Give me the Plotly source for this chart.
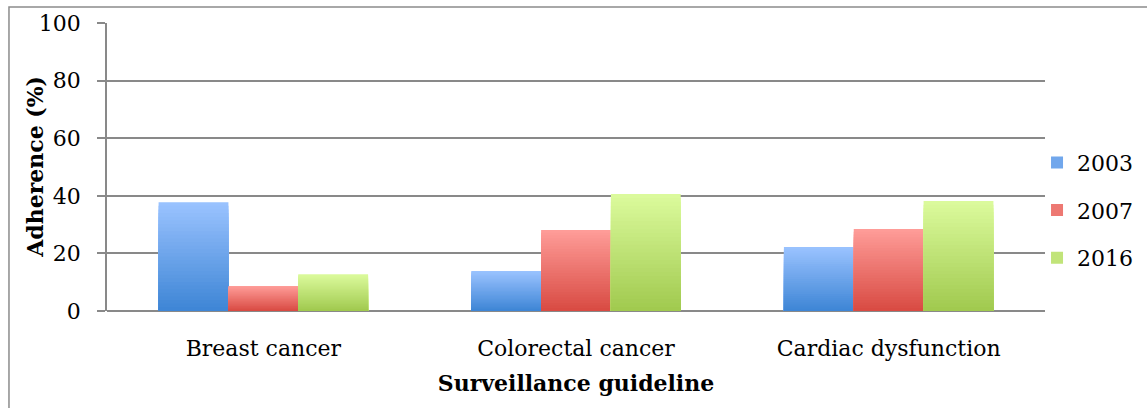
import plotly.graph_objects as go

# Adherence to surveillance guidelines, by year
categories = ["Breast cancer", "Colorectal cancer", "Cardiac dysfunction"]
years = ["2003", "2007", "2016"]
adherence_2003 = [37.8, 13.9, 22.2]
adherence_2007 = [8.7, 28.1, 28.5]
adherence_2016 = [12.8, 40.6, 38.2]
y_ticks = [0, 20, 40, 60, 80, 100]

series = [adherence_2003, adherence_2007, adherence_2016]
# (bottom colour, top colour) of each series' vertical gradient
gradients = [
    ((61, 133, 213), (155, 195, 255)),
    ((216, 74, 66), (255, 157, 153)),
    ((160, 201, 78), (220, 251, 157)),
]

FONT = "DejaVu Serif"
SIZE = 22
GRID = "#898989"
STEPS = 30


def mix(c0, c1, t):
    return "rgb({},{},{})".format(*[round(a + (b - a) * t) for a, b in zip(c0, c1)])


fig = go.Figure()
for name, values, (bottom, top) in zip(years, series, gradients):
    # legend entry for the series
    fig.add_trace(go.Bar(
        x=categories, y=[None] * len(categories), name=name,
        legendgroup=name, offsetgroup=name, showlegend=True,
        marker=dict(color=mix(bottom, top, 0.55), line_width=0), hoverinfo="skip",
    ))
    # stacked layers of shrinking height give each bar a bottom-dark gradient
    for k in range(STEPS):
        frac = 1 - k / STEPS
        fig.add_trace(go.Bar(
            x=categories,
            y=[v * frac for v in values],
            name=name,
            legendgroup=name,
            offsetgroup=name,
            showlegend=False,
            marker=dict(color=mix(bottom, top, frac - 0.5 / STEPS), line_width=0),
            hoverinfo="skip",
        ))

# outer chart frame
fig.add_shape(
    type="rect", xref="paper", yref="paper",
    x0=-0.1045, x1=1.3, y0=-0.6, y1=1.0556,
    line=dict(color="#8c8c8c", width=1.5), fillcolor="rgba(0,0,0,0)", layer="below",
)

# vertical axis title
fig.add_annotation(
    text="<b>Adherence (%)</b>", textangle=-90, showarrow=False,
    xref="paper", yref="paper", x=-0.077, y=0.5, xanchor="center", yanchor="middle",
    font=dict(family=FONT, size=SIZE, color="black"),
)

fig.update_layout(
    width=1147, height=408,
    margin=dict(l=107, r=102, t=23, b=97, autoexpand=False),
    paper_bgcolor="white", plot_bgcolor="white",
    barmode="group", bargap=0.33, bargroupgap=0,
    font=dict(family=FONT, size=SIZE, color="black"),
    showlegend=True,
    legend=dict(
        x=0.9915, xanchor="left", y=0.35, yanchor="middle",
        font=dict(family=FONT, size=SIZE), tracegroupgap=16,
        itemwidth=30, bgcolor="rgba(0,0,0,0)",
    ),
    xaxis=dict(
        type="category", showgrid=False, ticks="", showline=False,
        tickfont=dict(family=FONT, size=SIZE), ticklabelstandoff=22,
        title=dict(text="<b>Surveillance guideline</b>", font=dict(family=FONT, size=SIZE), standoff=15),
    ),
    yaxis=dict(
        range=[0, 100], tickvals=y_ticks, showgrid=True, gridcolor=GRID, gridwidth=1.6,
        zeroline=True, zerolinecolor=GRID, zerolinewidth=1.6,
        showline=True, linecolor=GRID, linewidth=1.6,
        ticks="outside", ticklen=8, tickcolor=GRID, tickwidth=1.6,
        tickfont=dict(family=FONT, size=SIZE), ticklabelstandoff=12,
    ),
)

fig.write_html("out.html")
